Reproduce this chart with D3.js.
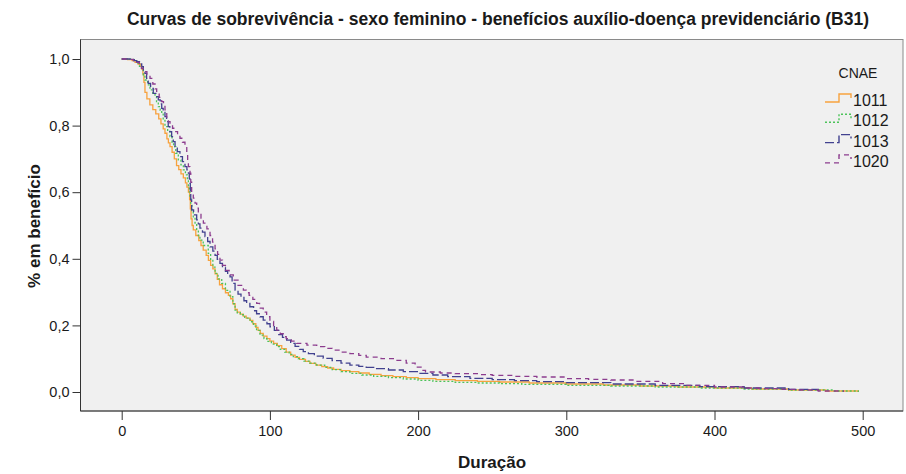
<!DOCTYPE html>
<html>
<head>
<meta charset="utf-8">
<script src="https://cdn.jsdelivr.net/npm/d3@7"></script>
<style>
  html, body { margin: 0; padding: 0; background: #ffffff; }
  svg { display: block; }
  text { font-family: "Liberation Sans", Arial, sans-serif; fill: #1a1a1a; }
</style>
</head>
<body>
<svg id="chart" width="906" height="474"></svg>
<script>
// Kaplan-Meier survival estimates by CNAE group (duration in days)
const groups = ["1011", "1012", "1013", "1020"];

const t1011 = [0, 4, 7, 9, 11, 12.5, 13.5, 14.3, 15, 15.7, 17, 19, 21, 23, 25, 26.5, 28, 29.2, 30.5, 31.5, 32.6, 34, 35.5, 37, 38.5, 40, 41.6, 43, 44, 45, 45.8, 46.3, 46.8, 47.5, 48.3, 50, 52, 53.5, 55, 57, 58.5, 60, 61.5, 63, 64.5, 66, 68, 70, 72, 73.5, 75, 76.5, 78, 80, 82, 84, 86.6, 88.5, 90.5, 92, 93.5, 95.5, 98, 100, 102.5, 105, 108, 111, 114, 117, 120, 124, 127, 131, 135, 139, 143, 148, 154, 160, 167, 175, 183, 192, 200, 212, 225, 240, 255, 275, 300, 325, 350, 375, 400, 425, 450, 475, 497];
const s1011 = [1.0, 0.998, 0.995, 0.99, 0.985, 0.978, 0.97, 0.955, 0.93, 0.9, 0.88, 0.862, 0.848, 0.835, 0.82, 0.805, 0.79, 0.777, 0.76, 0.748, 0.737, 0.72, 0.7, 0.68, 0.668, 0.655, 0.643, 0.628, 0.615, 0.6, 0.578, 0.55, 0.52, 0.5, 0.487, 0.47, 0.455, 0.44, 0.426, 0.41, 0.395, 0.38, 0.37, 0.355, 0.338, 0.322, 0.31, 0.298, 0.29, 0.28, 0.265, 0.248, 0.24, 0.234, 0.228, 0.222, 0.215, 0.205, 0.194, 0.185, 0.176, 0.168, 0.16, 0.153, 0.146, 0.139, 0.13, 0.12, 0.111, 0.104, 0.098, 0.092, 0.086, 0.081, 0.076, 0.072, 0.068, 0.064, 0.061, 0.057, 0.053, 0.049, 0.046, 0.043, 0.04, 0.037, 0.034, 0.032, 0.03, 0.027, 0.024, 0.021, 0.018, 0.015, 0.012, 0.009, 0.006, 0.003, 0.0];

const t1012 = [0, 5.6, 8, 10.1, 12, 13.5, 14.6, 15.7, 17.5, 19.1, 21, 22.5, 23.5, 24.7, 26, 27, 28, 29.2, 31, 32.6, 34, 35, 36.5, 38.2, 40, 41.6, 43, 44.3, 45, 45.6, 46.1, 46.6, 47.4, 48.3, 49.5, 50.6, 51.7, 52.8, 55, 58.4, 60, 61.5, 63, 65, 67.5, 70, 73.1, 75, 76.5, 78, 80, 83, 86.6, 89, 91, 93.3, 96, 98, 101, 104.6, 107, 110, 113, 115.8, 119, 123, 127, 131.6, 137, 142, 148, 154, 162, 170, 180, 190, 200, 210, 225, 240, 255, 270, 300, 330, 360, 390, 420, 450, 480, 497];
const s1012 = [1.0, 0.999, 0.995, 0.987, 0.978, 0.967, 0.952, 0.937, 0.922, 0.907, 0.895, 0.887, 0.872, 0.857, 0.846, 0.837, 0.818, 0.797, 0.782, 0.767, 0.75, 0.737, 0.717, 0.697, 0.682, 0.667, 0.652, 0.637, 0.62, 0.601, 0.585, 0.567, 0.545, 0.526, 0.505, 0.486, 0.47, 0.456, 0.44, 0.416, 0.395, 0.375, 0.356, 0.34, 0.326, 0.305, 0.286, 0.265, 0.246, 0.238, 0.232, 0.222, 0.211, 0.198, 0.185, 0.171, 0.16, 0.152, 0.144, 0.136, 0.128, 0.12, 0.113, 0.106, 0.1, 0.093, 0.087, 0.081, 0.074, 0.067, 0.061, 0.056, 0.051, 0.047, 0.043, 0.039, 0.035, 0.032, 0.029, 0.027, 0.025, 0.023, 0.02, 0.018, 0.015, 0.012, 0.009, 0.006, 0.003, 0.0];

const t1013 = [0, 6.7, 8.5, 10.1, 12, 13.5, 14.6, 15.7, 16.8, 17.9, 19.5, 21.3, 23, 24.7, 26, 27, 28, 29.2, 30.3, 31.4, 32.5, 33.7, 34.8, 36, 37.5, 39.3, 41, 42.7, 44, 45, 45.6, 46.1, 46.3, 46.6, 47.2, 48.5, 50.6, 51.7, 52.8, 54.5, 56.2, 58, 59.6, 61.5, 63, 64.5, 66.3, 68, 70, 71.5, 73.1, 74.5, 76.5, 78.5, 80.5, 82.5, 84.3, 86.5, 89, 91, 93.3, 95.5, 98, 100.1, 103, 106, 108.5, 111.3, 114, 117, 120, 122.5, 126, 130, 136, 142, 148, 154, 160, 165, 172, 180, 190, 200, 210, 220, 235, 250, 265, 280, 300, 330, 360, 390, 420, 450, 470];
const s1013 = [1.0, 0.998, 0.995, 0.992, 0.985, 0.977, 0.967, 0.957, 0.942, 0.927, 0.912, 0.897, 0.887, 0.877, 0.865, 0.852, 0.84, 0.827, 0.812, 0.797, 0.782, 0.767, 0.752, 0.737, 0.722, 0.707, 0.692, 0.677, 0.667, 0.657, 0.64, 0.627, 0.6, 0.577, 0.547, 0.532, 0.517, 0.505, 0.492, 0.48, 0.467, 0.452, 0.436, 0.423, 0.41, 0.398, 0.386, 0.374, 0.362, 0.354, 0.346, 0.326, 0.306, 0.294, 0.284, 0.274, 0.266, 0.256, 0.244, 0.235, 0.226, 0.216, 0.205, 0.196, 0.185, 0.172, 0.164, 0.156, 0.146, 0.137, 0.128, 0.121, 0.115, 0.108, 0.101, 0.094, 0.087, 0.081, 0.077, 0.074, 0.07, 0.066, 0.061, 0.056, 0.051, 0.046, 0.041, 0.037, 0.034, 0.031, 0.028, 0.024, 0.02, 0.016, 0.012, 0.008, 0.003];

const t1020 = [0, 4, 7.8, 10, 11.9, 13.3, 14.6, 17, 19.1, 21, 22.5, 23.6, 25.3, 27, 28.2, 29.2, 30.4, 31.5, 32.6, 34.3, 36, 37.7, 39.3, 41, 42.7, 43.9, 44.5, 45, 46.1, 46.6, 47.2, 48.3, 49.5, 50.6, 51.7, 53.5, 55.1, 57.5, 59.6, 61.3, 63, 64.7, 66.3, 68, 70, 72.5, 75.3, 78.5, 82.1, 84, 86, 88.5, 91.1, 93, 95.5, 97.8, 100, 102.5, 104.6, 107, 109, 111, 114.5, 118.1, 125, 131.6, 137, 142, 148, 154, 160, 165, 175, 185, 192, 198, 202, 205, 215, 225, 240, 250, 265, 280, 300, 315, 330, 345, 365, 380, 400, 420, 430, 445, 455, 470, 487];
const s1020 = [1.0, 0.999, 0.995, 0.99, 0.982, 0.972, 0.962, 0.952, 0.942, 0.925, 0.91, 0.897, 0.885, 0.872, 0.86, 0.847, 0.822, 0.812, 0.802, 0.792, 0.782, 0.772, 0.762, 0.75, 0.737, 0.712, 0.695, 0.677, 0.657, 0.63, 0.597, 0.582, 0.567, 0.552, 0.537, 0.522, 0.507, 0.49, 0.47, 0.45, 0.43, 0.413, 0.396, 0.38, 0.365, 0.352, 0.336, 0.32, 0.306, 0.298, 0.29, 0.278, 0.266, 0.252, 0.24, 0.226, 0.212, 0.198, 0.186, 0.175, 0.166, 0.16, 0.153, 0.146, 0.141, 0.136, 0.131, 0.126, 0.12, 0.115, 0.11, 0.105, 0.1, 0.095, 0.087, 0.075, 0.065, 0.06, 0.057, 0.055, 0.052, 0.05, 0.047, 0.045, 0.04, 0.038, 0.036, 0.032, 0.025, 0.02, 0.015, 0.012, 0.01, 0.008, 0.006, 0.003, 0.0];

const times = [t1011, t1012, t1013, t1020];
const survival = [s1011, s1012, s1013, s1020];

const xTicks = [0, 100, 200, 300, 400, 500];
const yTicks = [0, 0.2, 0.4, 0.6, 0.8, 1.0];

const colors = ["#f7a23e", "#4cc35a", "#41418f", "#8c3c8e"];
const dashes = [null, "2,2", "9,3", "5,4"];

const svg = d3.select("#chart");

// Plot frame
const frame = { left: 80.5, top: 39.5, right: 903, bottom: 411 };

const x = d3.scaleLinear().domain([0, 500]).range([121.7, 862.7]);
const y = d3.scaleLinear().domain([0, 1]).range([392, 59]);

svg.append("rect")
  .attr("x", frame.left).attr("y", frame.top)
  .attr("width", frame.right - frame.left)
  .attr("height", frame.bottom - frame.top)
  .attr("fill", "#f0f0f0")
  .attr("stroke", "#8a8a8a")
  .attr("stroke-width", 1);

// Axes
const fmt = d => d3.format(".1f")(d).replace(".", ",");

const yAxis = svg.append("g")
  .attr("transform", `translate(${frame.left},0)`)
  .call(d3.axisLeft(y).tickValues(yTicks).tickFormat(fmt).tickSize(8).tickPadding(3));
yAxis.select(".domain").attr("d", `M0,${frame.top}V${frame.bottom}`).attr("stroke", "#333");

const xAxis = svg.append("g")
  .attr("transform", `translate(0,${frame.bottom})`)
  .call(d3.axisBottom(x).tickValues(xTicks).tickFormat(d3.format("d")).tickSize(9).tickPadding(6));
xAxis.select(".domain").attr("d", `M${frame.left},0H${frame.right}`).attr("stroke", "#333");

svg.selectAll(".tick line").attr("stroke", "#333");
svg.selectAll(".tick text")
  .attr("font-family", "'Liberation Sans', Arial, sans-serif")
  .attr("font-size", 14.5)
  .attr("fill", "#333");

// Survival step curves
const line = d3.line()
  .x(d => x(d[0]))
  .y(d => y(d[1]))
  .curve(d3.curveStepAfter);

const plot = svg.append("g");
groups.forEach((g, i) => {
  const pts = times[i].map((t, j) => [t, survival[i][j]]);
  plot.append("path")
    .attr("d", line(pts))
    .attr("fill", "none")
    .attr("stroke", colors[i])
    .attr("stroke-width", 1.3)
    .attr("stroke-dasharray", dashes[i]);
});

// Legend
const legend = svg.append("g");
legend.append("text")
  .attr("x", 858).attr("y", 78)
  .attr("text-anchor", "middle")
  .attr("font-size", 14)
  .text("CNAE");

groups.forEach((g, i) => {
  const cy = 101 + i * 20.3;
  legend.append("path")
    .attr("d", `M825,${cy + 1}H839V${cy - 7}H851V${cy - 3}`)
    .attr("fill", "none")
    .attr("stroke", colors[i])
    .attr("stroke-width", 1.4)
    .attr("stroke-dasharray", dashes[i]);
  legend.append("text")
    .attr("x", 853).attr("y", cy + 5)
    .attr("font-size", 16)
    .text(g);
});

// Titles
svg.append("text")
  .attr("x", 498).attr("y", 25)
  .attr("text-anchor", "middle")
  .attr("font-weight", "bold")
  .attr("font-size", 17.5)
  .text("Curvas de sobrevivência - sexo feminino - benefícios auxílio-doença previdenciário (B31)");

svg.append("text")
  .attr("x", 492).attr("y", 468)
  .attr("text-anchor", "middle")
  .attr("font-weight", "bold")
  .attr("font-size", 17)
  .text("Duração");

svg.append("text")
  .attr("transform", "translate(40,226) rotate(-90)")
  .attr("text-anchor", "middle")
  .attr("font-weight", "bold")
  .attr("font-size", 17)
  .text("% em benefício");
</script>
</body>
</html>
